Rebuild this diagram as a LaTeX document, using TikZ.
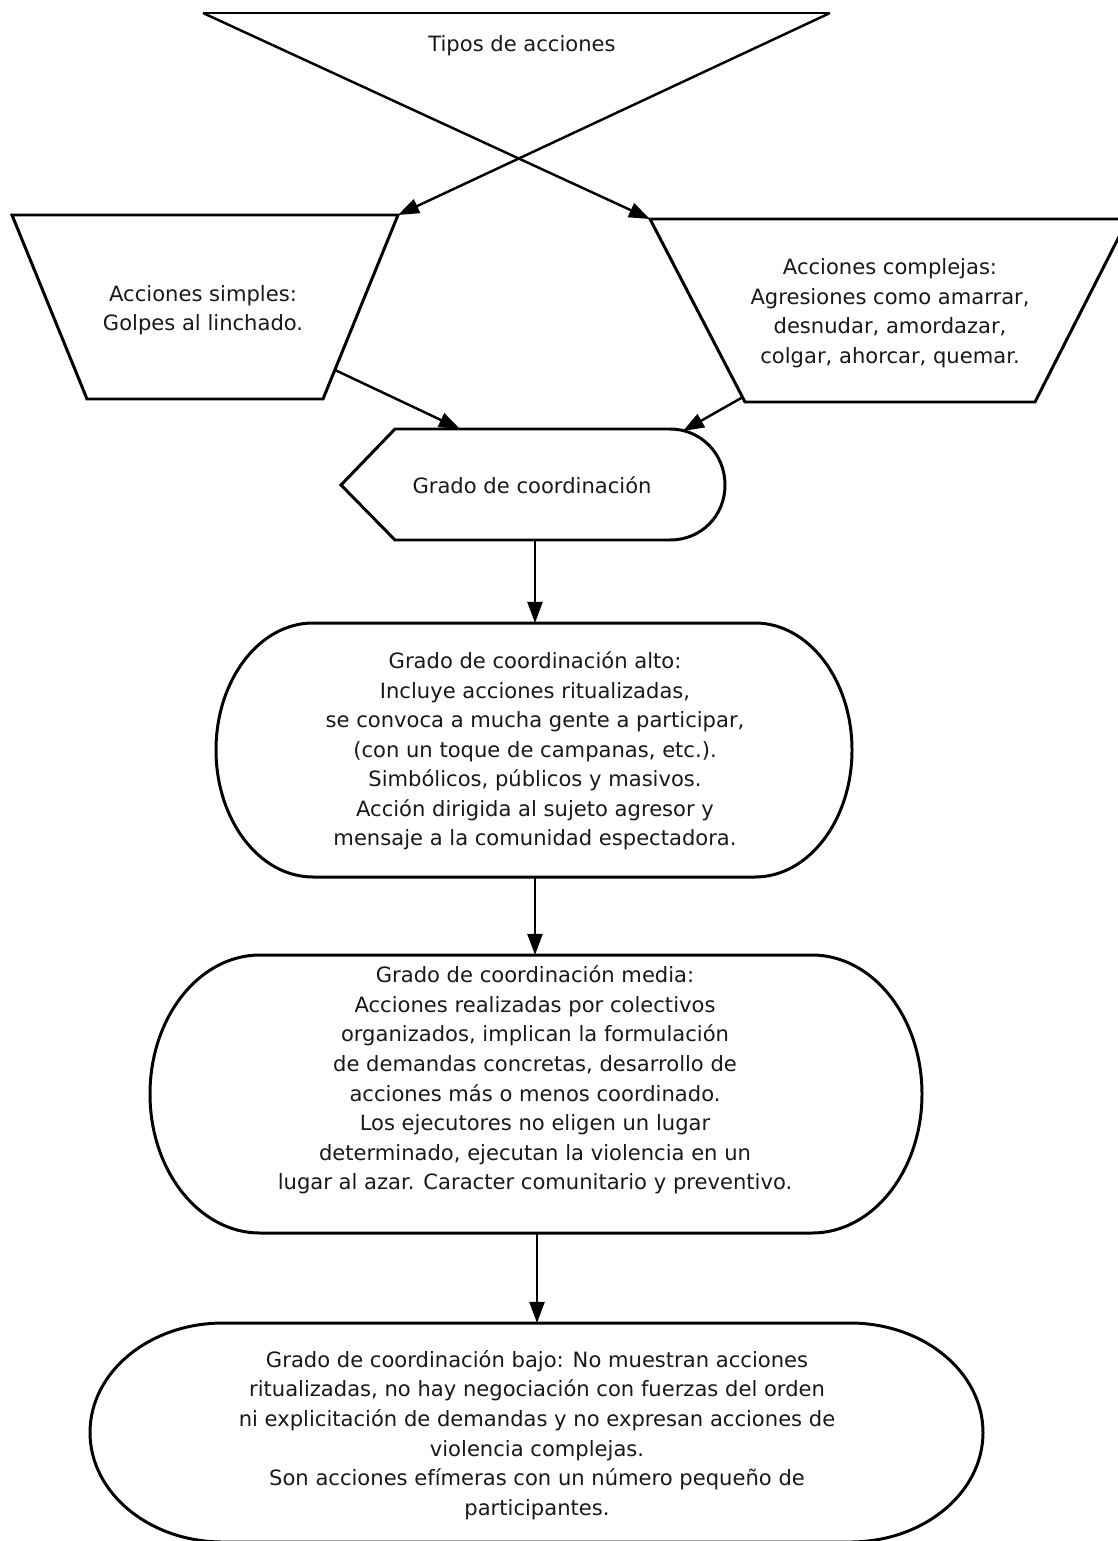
\documentclass[tikz,border=0pt]{standalone}
\usepackage{fontspec}
\setmainfont{DejaVu Sans}
\usetikzlibrary{arrows.meta}
\begin{document}
\begin{tikzpicture}[x=0.02cm,y=-0.02cm,
  outline/.style={line width=1.7pt, line join=miter},
  conn/.style={line width=1.4pt, -{Triangle[length=12pt,width=8.5pt]}},
  lbl/.style={align=center, font=\fontsize{12}{16.8}\selectfont, inner sep=0pt, text=black!90},
]
\clip (0,0) rectangle (1118,1541);
\fill[white] (0,0) rectangle (1118,1541);

% ---- top shape (Tipos de acciones)
\coordinate (topL) at (203,13);
\coordinate (topR) at (830,13);
\draw[outline] (topL) -- (topR);
\node[lbl] (tipos) at (522,46) {Tipos de acciones};

% ---- left trapezoid (Acciones simples)
\coordinate (sTL) at (12,215);
\coordinate (sTR) at (398,215);
\coordinate (sBR) at (323,399);
\coordinate (sBL) at (87,399);
\draw[outline] (sTL) -- (sTR) -- (sBR) -- (sBL) -- cycle;
\node[lbl] (simples) at (203,310) {Acciones simples:\\Golpes al linchado.};
\coordinate (sOut) at (335,370);

% ---- right trapezoid (Acciones complejas)
\coordinate (cTL) at (650,219);
\coordinate (cTR) at (1128,219);
\coordinate (cBR) at (1035,402);
\coordinate (cBL) at (745,402);
\draw[outline] (cTL) -- (cTR) -- (cBR) -- (cBL) -- cycle;
\node[lbl] (complejas) at (890,313) {Acciones complejas:\\Agresiones como amarrar,\\desnudar, amordazar,\\colgar, ahorcar, quemar.};
\coordinate (cOut) at (743,397);

% ---- display shape (Grado de coordinación)
\draw[outline] (395,429) -- (670,429)
  .. controls (701,429) and (725,454) .. (725,485)
  .. controls (725,516) and (701,540) .. (670,540)
  -- (395,540) -- (341,485) -- cycle;
\node[lbl] (grado) at (532,485) {Grado de coordinación};
\coordinate (gInL) at (460,429);
\coordinate (gInR) at (683,431);
\coordinate (gOut) at (535,540);

% ---- box alto
\draw[outline] (313,623) -- (755,623)
  .. controls (808.6,623) and (852,679.9) .. (852,750)
  .. controls (852,820.1) and (808.6,877) .. (755,877)
  -- (313,877)
  .. controls (259.4,877) and (216,820.1) .. (216,750)
  .. controls (216,679.9) and (259.4,623) .. (313,623) -- cycle;
\node[lbl] (alto) at (535,751) {Grado de coordinación alto:\\Incluye acciones ritualizadas,\\se convoca a mucha gente a participar,\\(con un toque de campanas, etc.).\\Simbólicos, públicos y masivos.\\Acción dirigida al sujeto agresor y\\mensaje a la comunidad espectadora.};
\coordinate (aIn) at (535,623);
\coordinate (aOut) at (535,877);

% ---- box media
\draw[outline] (260,955) -- (812,955)
  .. controls (872.8,955) and (922,1017.2) .. (922,1094)
  .. controls (922,1170.8) and (872.8,1233) .. (812,1233)
  -- (260,1233)
  .. controls (199.2,1233) and (150,1170.8) .. (150,1094)
  .. controls (150,1017.2) and (199.2,955) .. (260,955) -- cycle;
\node[lbl] (media) at (535,1080) {Grado de coordinación media:\\Acciones realizadas por colectivos\\organizados, implican la formulación\\de demandas concretas, desarrollo de\\acciones más o menos coordinado.\\Los ejecutores no eligen un lugar\\determinado, ejecutan la violencia en un\\lugar al azar. Caracter comunitario y preventivo.};
\coordinate (mIn) at (535,955);
\coordinate (mOut) at (537,1233);

% ---- box bajo
\draw[outline] (223,1323) -- (850,1323)
  .. controls (923.5,1323) and (983,1372) .. (983,1432.5)
  .. controls (983,1493) and (923.5,1542) .. (850,1542)
  -- (223,1542)
  .. controls (149.5,1542) and (90,1493) .. (90,1432.5)
  .. controls (90,1372) and (149.5,1323) .. (223,1323) -- cycle;
\node[lbl] (bajo) at (537,1435) {Grado de coordinación bajo: No muestran acciones\\ritualizadas, no hay negociación con fuerzas del orden\\ni explicitación de demandas y no expresan acciones de\\violencia complejas.\\Son acciones efímeras con un número pequeño de\\participantes.};
\coordinate (bIn) at (537,1323);

% ---- connectors
\draw[conn] (topL) -- (cTL);
\draw[conn] (topR) -- (sTR);
\draw[conn] (sOut) -- (gInL);
\draw[conn] (cOut) -- (gInR);
\draw[conn] (gOut) -- (aIn);
\draw[conn] (aOut) -- (mIn);
\draw[conn] (mOut) -- (bIn);
\end{tikzpicture}
\end{document}
